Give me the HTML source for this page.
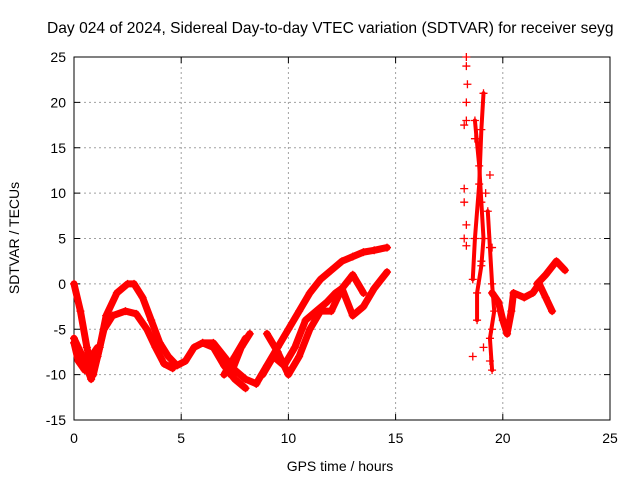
<!DOCTYPE html>
<html><head><meta charset="utf-8"><style>
body{margin:0;background:#fff;overflow:hidden;}
svg{font-family:"Liberation Sans",sans-serif;}
</style></head><body>
<svg id="c" width="640" height="480" xmlns="http://www.w3.org/2000/svg"></svg>
<script>
const xTicks=[0,5,10,15,20,25];
const yTicks=[-15,-10,-5,0,5,10,15,20,25];
const trackA=[[0,0],[0.3,-3],[0.6,-7],[0.9,-10],[1.2,-7],[1.5,-3.5],[2,-1],[2.5,0],[2.8,0],[3.2,-1.5],[3.6,-4],[4,-6.5],[4.4,-8],[4.8,-9],[5.2,-8.5],[5.6,-7],[6,-6.5],[6.5,-6.5],[7,-8],[7.5,-9.5],[8,-10.5],[8.5,-11]];
const trackB=[[0,-6],[0.4,-8],[0.8,-10.5],[1.1,-8],[1.4,-5],[1.8,-3.5],[2.4,-3],[2.9,-3.3],[3.4,-5],[3.8,-7],[4.2,-8.8],[4.6,-9.3]];
const trackC=[[0,-6.5],[0.2,-8.5],[0.5,-9.5],[0.8,-8],[1.1,-7]];
const trackD=[[6,-6.5],[6.5,-7],[7,-9],[7.5,-10.5],[8,-11.5]];
const trackE=[[7,-10],[7.5,-8],[8,-6]];
const trackF=[[7.3,-10],[7.8,-7],[8.2,-5.5]];
const trackG=[[8.5,-11],[9,-9],[9.5,-7],[10,-5],[10.5,-3],[11,-1],[11.5,0.5],[12,1.5],[12.5,2.5],[13,3],[13.5,3.5],[14,3.7],[14.6,4]];
const trackH=[[8.8,-10],[9.3,-8],[9.8,-9],[10.3,-7],[10.8,-4],[11.3,-3],[11.8,-2],[12.2,-1],[12.5,-0.5],[13,-3.5],[13.5,-2.5],[14,-0.5],[14.6,1.3]];
const trackI=[[9,-5.5],[9.5,-7.5],[10,-10],[10.5,-8],[11,-5],[11.5,-3],[12,-3],[12.5,-0.5],[13,1],[13.5,-1]];
const trackJ=[[18.7,18],[18.9,13],[19,9],[19.1,5],[19,2],[18.8,-1],[18.8,-4]];
const trackK=[[19.1,21],[19,17],[18.9,11],[18.7,5],[18.6,0.5]];
const trackL=[[19.3,8],[19.4,4],[19.5,0],[19.6,-3],[19.4,-6],[19.5,-9.5]];
const trackM=[[19.5,-1],[19.8,-2],[20,-4],[20.2,-5.5],[20.4,-3],[20.5,-1],[21,-1.5],[21.4,-1],[21.7,0],[22,-1.5],[22.3,-3]];
const trackN=[[21.6,0],[22,1],[22.5,2.5],[22.9,1.5]];
const sparse=[[18.3,25],[18.3,24],[18.35,22],[18.3,20],[18.3,18],[18.2,17.5],[18.2,10.5],[18.2,9],[18.3,6.5],[18.2,5],[18.3,4.2],[18.7,16],[19.2,10],[19.4,12],[19.5,4],[18.6,-8],[19.1,-7],[19.4,-8.5],[19.5,-5],[19,2.5]];
const tracks=[trackA,trackB,trackC,trackD,trackE,trackF,trackG,trackH,trackI,trackJ,trackK,trackL,trackM,trackN];
const thin=[trackJ,trackK,trackL];
const L=74,R=610,T=57,B=420;
const xs=t=>L+(t-0)/(25-0)*(R-L);
const ys=v=>B-(v+15)/(40)*(B-T);
const svg=document.getElementById('c');
const NS='http://www.w3.org/2000/svg';
function mk(tag,attrs,parent){const e=document.createElementNS(NS,tag);for(const k in attrs)e.setAttribute(k,attrs[k]);(parent||svg).appendChild(e);return e;}
yTicks.forEach(v=>{if(v>-15&&v<25){const g=mk('line',{x1:L,x2:R,y1:ys(v),y2:ys(v),stroke:'#a0a0a0','stroke-dasharray':'2,3'});}
 const t=mk('text',{x:L-8,y:ys(v)+5,'text-anchor':'end','font-size':'14',fill:'#000'});t.textContent=v;
 mk('line',{x1:L,x2:L+6,y1:ys(v),y2:ys(v),stroke:'#000'});mk('line',{x1:R,x2:R-6,y1:ys(v),y2:ys(v),stroke:'#000'});});
xTicks.forEach(t0=>{if(t0>0&&t0<25){const g=mk('line',{x1:xs(t0),x2:xs(t0),y1:T,y2:B,stroke:'#a0a0a0','stroke-dasharray':'2,3'});}
 const t=mk('text',{x:xs(t0),y:B+23,'text-anchor':'middle','font-size':'14',fill:'#000'});t.textContent=t0;
 mk('line',{x1:xs(t0),x2:xs(t0),y1:B,y2:B-6,stroke:'#000'});mk('line',{x1:xs(t0),x2:xs(t0),y1:T,y2:T+6,stroke:'#000'});});
const fr=mk('rect',{x:L,y:T,width:R-L,height:B-T,fill:'none',stroke:'#000','stroke-width':1});

const g=mk('g',{});
tracks.forEach(tr=>{
 const p=mk('polyline',{points:tr.map(d=>xs(d[0])+','+ys(d[1])).join(' '),fill:'none',stroke:'#f00','stroke-width':thin.includes(tr)?4:7,'stroke-linejoin':'round','stroke-linecap':'round'},g);
 
});
function plus(d){const x=xs(d[0]),y=ys(d[1]);const m=mk('path',{d:`M${x-4},${y}h8M${x},${y-4}v8`,stroke:'#f00','stroke-width':1.3},g);}
tracks.forEach(tr=>tr.forEach(plus));
sparse.forEach(plus);
const title=mk('text',{x:47,y:33,'font-size':'15.6',fill:'#000'});title.textContent='Day 024 of 2024, Sidereal Day-to-day VTEC variation (SDTVAR) for receiver seyg';

const xl=mk('text',{x:340,y:471,'text-anchor':'middle','font-size':'14',fill:'#000'});xl.textContent='GPS time / hours';

const yl=mk('text',{x:0,y:0,'text-anchor':'middle','font-size':'14',fill:'#000',transform:'translate(19,238) rotate(-90)'});yl.textContent='SDTVAR / TECUs';

</script>
</body></html>
